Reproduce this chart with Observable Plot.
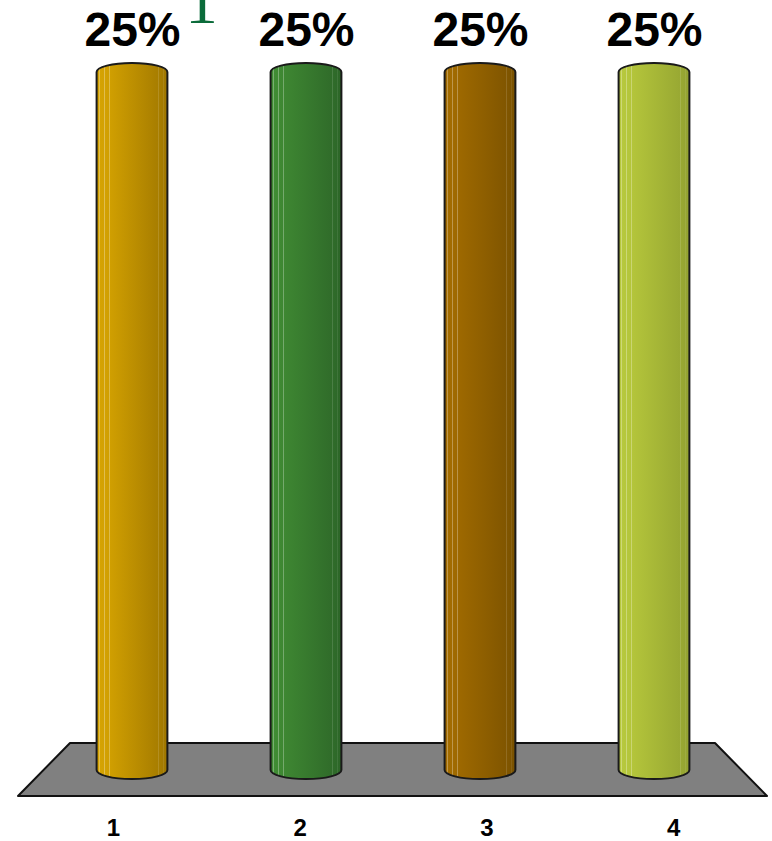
<!DOCTYPE html>
<html><head><meta charset="utf-8">
<script src="https://cdn.jsdelivr.net/npm/d3@7"></script>
<script src="https://cdn.jsdelivr.net/npm/@observablehq/plot@0.6"></script>
<style>
html,body{margin:0;padding:0;background:#fff;}
#chart{position:relative;width:772px;height:841px;overflow:hidden;}
</style>
</head><body>
<svg width="0" height="0" style="position:absolute"><defs id="gdefs"></defs></svg>
<div id="chart"></div>
<script>
// ---- data ----
const categories = ["1", "2", "3", "4"];
const shares = [0.25, 0.25, 0.25, 0.25];
const valueLabels = ["25%", "25%", "25%", "25%"];
const titleFragment = ["1"];
// per-bar shading: [left, middle, right]
const barShades = [
  ["#D6A402", "#C89700", "#9E7600"],
  ["#418D34", "#3A7F2F", "#2D6628"],
  ["#A46D00", "#966300", "#7A5200"],
  ["#B8C93D", "#ADBF38", "#93A231"]
];
const stripeOffsets = [0.04, 0.11, 0.18, 0.87, 0.94];

// ---- gradients (cylinder shading) ----
const defs = d3.select("#gdefs");
barShades.forEach((s, i) => {
  const base = t => t < 0.45 ? d3.interpolateRgb(s[0], s[1])(t / 0.45) : d3.interpolateRgb(s[1], s[2])((t - 0.45) / 0.55);
  const g = defs.append("linearGradient").attr("id", `bar${i}`).attr("x1", 0).attr("x2", 1).attr("y1", 0).attr("y2", 0);
  const stops = [[0, base(0)]];
  stripeOffsets.forEach(o => {
    const c = base(o);
    const hi = d3.interpolateRgb(c, "#ffffff")(0.3);
    stops.push([o - 0.006, c], [o - 0.002, hi], [o + 0.002, hi], [o + 0.006, c]);
  });
  stops.push([1, base(1)]);
  stops.sort((a, b) => a[0] - b[0]).forEach(([o, c]) => g.append("stop").attr("offset", o).attr("stop-color", c));
});

const data = categories.map((c, i) => ({cat: c, value: shares[i], label: valueLabels[i], fill: `url(#bar${i})`}));

// floor plane drawn from the frame and the y scale
function floorMark(index, scales, values, dim) {
  const y0 = (scales && typeof scales.y === "function") ? scales.y(0) : dim.height - dim.marginBottom;
  const L = dim.marginLeft, R = dim.width - dim.marginRight;
  const pts = [[L + 26, y0 - 36], [R - 26, y0 - 36], [R + 26, y0 + 17], [L - 26, y0 + 17]];
  return d3.create("svg:polygon")
    .attr("points", pts.map(p => p.join(",")).join(" "))
    .attr("fill", "#808080").attr("stroke", "#111").attr("stroke-width", 2)
    .attr("stroke-linejoin", "round").node();
}

const perspective = 12.8; // front-edge spread of the category labels

const chart = Plot.plot({
  width: 772, height: 841,
  marginTop: 63, marginBottom: 62, marginLeft: 44, marginRight: 31,
  x: {domain: categories, padding: 0, axis: null},
  y: {domain: [0, 0.25], axis: null},
  color: {type: "identity"},
  style: {background: "white", fontFamily: "'Liberation Sans', Arial, sans-serif"},
  marks: [
    floorMark,
    Plot.barY(data, {x: "cat", y: "value", fill: "fill", stroke: "#1a1a1a", strokeWidth: 2,
      insetLeft: 51.6, insetRight: 51.6, rx: 35, ry: 9}),
    Plot.text(data, {x: "cat", y: "value", text: "label", dy: -18, lineAnchor: "bottom",
      fontSize: 48, fontWeight: "bold", fill: "black"}),
    ...categories.map((c, i) => Plot.text([c], {x: d => d, y: () => 0, text: d => d,
      dx: (i - 1.5) * perspective, dy: 56, lineAnchor: "bottom", fontSize: 24, fontWeight: "bold", fill: "black"})),
    Plot.text(titleFragment, {frameAnchor: "top-left", text: d => d, dx: 157, dy: -41, lineAnchor: "bottom",
      textAnchor: "middle", fontSize: 65, fontFamily: "'Liberation Serif', serif", fill: "#0B6B3A"})
  ]
});
document.getElementById("chart").appendChild(chart);
</script>
</body></html>
